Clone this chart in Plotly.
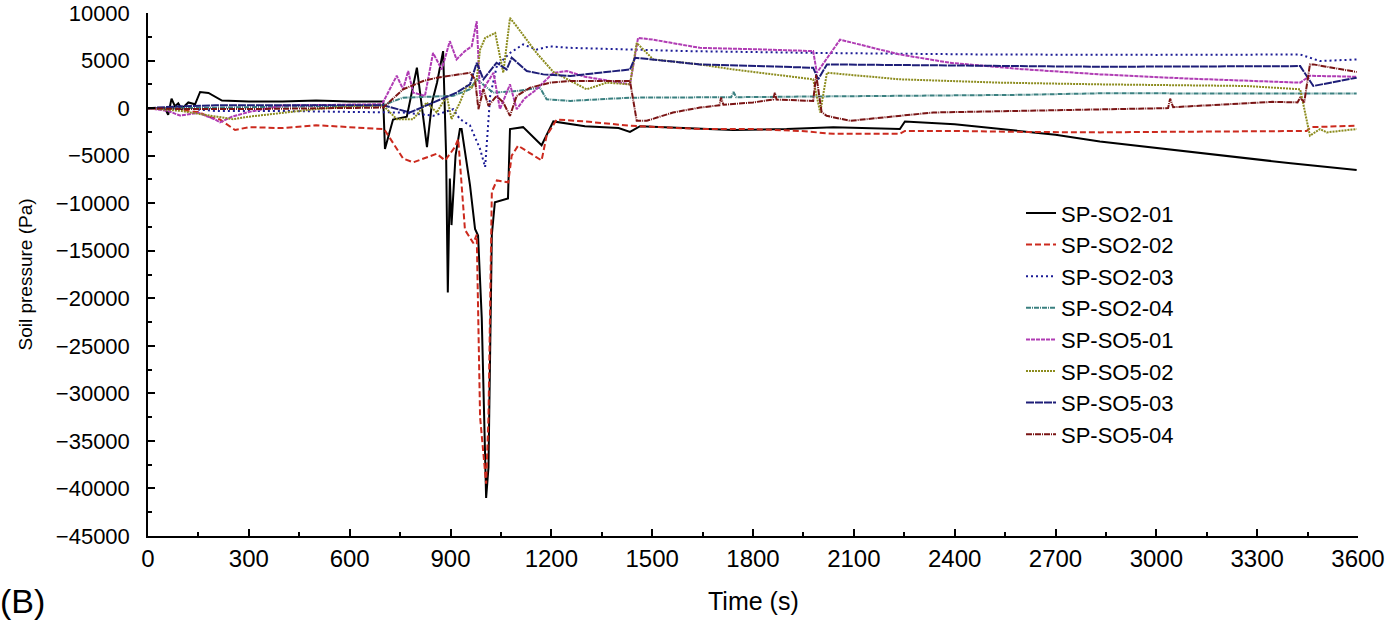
import plotly.graph_objects as go

# SP-SO2-01
t_so2_01 = [0, 50, 60, 70, 80, 90, 100, 120, 140, 155, 180, 220, 300, 400, 500, 600, 700,
            705, 729, 770, 800, 830, 845, 860, 878, 887, 892, 898, 903, 915, 928, 933, 958,
            973, 982, 993, 1006, 1013, 1023, 1032, 1071, 1077, 1116, 1171, 1206, 1300, 1400,
            1434, 1464, 1600, 1741, 1900, 2039, 2237, 2252, 2400, 2535, 2700, 2832, 3000,
            3200, 3400, 3596]
p_so2_01 = [0, 0, -700, 1000, 200, 500, -100, 600, 400, 1700, 1600, 800, 700, 700, 800, 700, 700,
            -4300, -1200, -900, 4250, -4100, 590, 2700, 6000, -5000, -19400, -7400, -12300, -5000,
            -2200, -2200, -8100, -12700, -13400, -22100, -41000, -37800, -13300, -9900, -9500,
            -2200, -2000, -3900, -1400, -1900, -2100, -2500, -1900, -2100, -2300, -2200, -2000,
            -2200, -1400, -1700, -2200, -2800, -3500, -4200, -5000, -5800, -6500]

# SP-SO2-02
t_so2_02 = [0, 90, 125, 150, 180, 214, 259, 300, 400, 500, 600, 700, 705, 759, 789, 859, 884,
            913, 923, 933, 943, 968, 978, 988, 998, 1006, 1013, 1023, 1038, 1072, 1082, 1101,
            1171, 1186, 1216, 1300, 1434, 1642, 1800, 1940, 2039, 2237, 2252, 2400, 2600, 2832,
            3000, 3200, 3447, 3460, 3596]
p_so2_02 = [0, 0, -360, -400, -900, -1200, -2300, -2000, -2100, -1800, -2000, -2200, -2350,
            -5300, -5700, -4800, -5500, -4100, -3250, -8500, -12800, -14200, -13300, -32500,
            -36000, -39500, -32500, -8800, -7600, -7800, -5000, -3950, -5500, -2900, -1200,
            -1400, -1850, -2200, -2200, -2400, -2700, -2700, -2400, -2400, -2500, -2550, -2500,
            -2450, -2400, -2000, -1850]

# SP-SO2-03
t_so2_03 = [0, 100, 200, 400, 600, 700, 759, 850, 908, 928, 958, 988, 1003, 1018, 1038, 1077,
            1116, 1156, 1196, 1256, 1404, 1600, 2000, 2500, 3000, 3428, 3487, 3596]
p_so2_03 = [0, 0, -300, -300, -400, -400, -460, -800, -110, -1160, -1820, -4300, -6200, 1300,
            4450, 5800, 6700, 6160, 6500, 6340, 6160, 6000, 5800, 5640, 5600, 5640, 4950, 5120]

# SP-SO2-04
t_so2_04 = [0, 100, 300, 500, 700, 720, 759, 908, 958, 978, 1027, 1097, 1166, 1186, 1256, 1434,
            1642, 1735, 1742, 1750, 1900, 2237, 2600, 2832, 3200, 3596]
p_so2_04 = [0, 0, 100, 200, 300, 590, 1100, 1290, 1980, 3030, 1630, 1800, 2150, 930, 760, 1100,
            1100, 1150, 1700, 1150, 1200, 1290, 1400, 1560, 1530, 1530]

# SP-SO5-01
t_so5_01 = [0, 60, 95, 150, 200, 214, 250, 300, 400, 500, 600, 690, 699, 740, 759, 774, 789, 824,
            848, 874, 898, 918, 943, 963, 978, 988, 1003, 1028, 1047, 1077, 1097, 1120, 1150,
            1206, 1246, 1300, 1434, 1458, 1503, 1642, 1800, 1979, 1990, 2059, 2237, 2386, 2600,
            2832, 3100, 3428, 3457, 3596]
p_so5_01 = [0, -300, -780, -500, -1200, -1500, -900, -400, 270, 300, 350, 410, 590, 3400, 1980,
            3900, 1630, 1290, 5800, 4070, 7040, 5120, 6000, 6500, 9130, 1290, 2330, 3720, -110,
            2500, -110, 1000, 1800, 3700, 3900, 3300, 2500, 7380, 7200, 6340, 6200, 6000, 3720,
            7200, 5640, 4770, 4100, 3550, 3100, 2680, 3400, 3300]

# SP-SO5-02
t_so5_02 = [0, 60, 100, 150, 253, 300, 400, 500, 600, 700, 740, 789, 829, 859, 889, 903, 928,
            948, 963, 978, 988, 1003, 1033, 1057, 1077, 1097, 1156, 1206, 1250, 1305, 1365, 1434,
            1454, 1503, 1642, 1741, 1979, 2000, 2020, 2237, 2535, 2832, 3268, 3428, 3457, 3487,
            3507, 3596]
p_so5_02 = [0, -200, -300, -600, -1160, -900, -500, -100, 200, 270, -1160, -1160, 590, -460,
            1290, -1160, 590, 2330, 2150, 3030, 6160, 7380, 7900, 3720, 9480, 8600, 5800, 3800,
            3000, 1980, 2680, 2500, 6860, 5120, 4600, 4070, 3030, -460, 3720, 3030, 2680, 2500,
            2330, 1980, -2900, -2200, -2550, -2200]

# SP-SO5-03
t_so5_03 = [0, 100, 200, 400, 600, 700, 779, 859, 918, 958, 978, 998, 1037, 1067, 1082, 1127,
            1176, 1256, 1434, 1449, 1494, 1642, 1979, 1994, 2020, 2832, 3428, 3467, 3596]
p_so5_03 = [0, 200, 300, 300, 300, 300, -460, 760, 1630, 2500, 4770, 3030, 4770, 4070, 5300,
            3900, 3550, 3380, 4070, 5300, 5120, 4600, 4250, 3030, 4600, 4350, 4420, 2330, 3200]

# SP-SO5-04
t_so5_04 = [0, 100, 300, 500, 700, 759, 819, 859, 918, 958, 973, 983, 998, 1013, 1037, 1057,
            1077, 1097, 1137, 1196, 1256, 1434, 1454, 1484, 1562, 1642, 1700, 1705, 1712, 1800,
            1860, 1865, 1870, 1979, 1988, 2004, 2019, 2089, 2336, 2832, 3035, 3041, 3050, 3347,
            3420, 3428, 3440, 3457, 3467, 3596]
p_so5_04 = [0, -100, -100, -50, 60, 1980, 2850, 3200, 3550, 3720, 3030, -110, 1980, 240, 1290,
            590, -810, 1290, 2150, 2680, 2850, 2850, -1330, -1330, -460, 60, 300, 1100, 350, 600,
            900, 1630, 900, 760, 3500, -400, -810, -1330, -460, -110, 0, 1000, 100, 660, 600,
            1100, 600, 4600, 4600, 3800]

x_ticks = list(range(0, 3601, 300))
y_ticks = list(range(-45000, 10001, 5000))
y_ticktext = [str(v).replace('-', '\u2212') for v in y_ticks]

series = [
    ("SP-SO2-01", t_so2_01, p_so2_01, "#000000", "solid"),
    ("SP-SO2-02", t_so2_02, p_so2_02, "#cc2a1e", "6px,3px"),
    ("SP-SO2-03", t_so2_03, p_so2_03, "#1c1c96", "2px,3px"),
    ("SP-SO2-04", t_so2_04, p_so2_04, "#3a8080", "5px,1px,1px,1px"),
    ("SP-SO5-01", t_so5_01, p_so5_01, "#b03cb4", "4px,1px"),
    ("SP-SO5-02", t_so5_02, p_so5_02, "#8c8c1e", "2px,1px"),
    ("SP-SO5-03", t_so5_03, p_so5_03, "#1e1e78", "8px,1px"),
    ("SP-SO5-04", t_so5_04, p_so5_04, "#7a1414", "6px,1px,1px,1px"),
]

fig = go.Figure()
for i, (name, t, p, color, dash) in enumerate(series):
    fig.add_trace(go.Scatter(x=t, y=p, mode='lines', name=name, legendgroup=str(i),
                             line=dict(color=color, width=2, dash=dash)))

axis_style = dict(showline=True, linecolor='black', linewidth=1.5, ticks='inside',
                  ticklen=7, tickwidth=1.5, tickcolor='black', showgrid=False,
                  zeroline=False, mirror=False, ticklabeloverflow='allow', automargin=False)

narrow = 'Liberation Sans Narrow, Arial Narrow, Arial, sans-serif'

fig.update_layout(
    width=1389, height=622,
    plot_bgcolor='white', paper_bgcolor='white',
    font=dict(family='Arial, Liberation Sans, sans-serif', color='black'),
    margin=dict(l=148, r=31, t=13, b=86),
    xaxis=dict(range=[0, 3600], tickvals=x_ticks,
               minor=dict(ticks='inside', ticklen=4, tickwidth=1.5, tickcolor='black', dtick=150),
               tickfont=dict(size=24, family=narrow, color='black'),
               **axis_style),
    yaxis=dict(range=[-45000, 10005], tickvals=y_ticks, ticktext=y_ticktext,
               minor=dict(ticks='inside', ticklen=4, tickwidth=1.5, tickcolor='black', dtick=2500),
               tickfont=dict(size=22, color='black'), ticklabelstandoff=12,
               **axis_style),
    showlegend=True,
    legend=dict(x=0.7215, y=0.6574, xanchor='left', yanchor='top', traceorder='grouped',
                tracegroupgap=0, font=dict(size=22), bgcolor='rgba(0,0,0,0)'),
    annotations=[
        dict(text='Time (s)', xref='paper', yref='paper', x=0.5, y=0, yshift=-65,
             xanchor='center', yanchor='middle', showarrow=False,
             font=dict(size=25, family=narrow, color='black')),
        dict(text='Soil pressure (Pa)', xref='paper', yref='paper', x=0, y=0.5, xshift=-123,
             xanchor='center', yanchor='middle', textangle=-90, showarrow=False,
             font=dict(size=19, color='black')),
        dict(text='(B)', xref='paper', yref='paper', x=0, y=0, xshift=-150, yshift=-65,
             xanchor='left', yanchor='middle', showarrow=False,
             font=dict(size=34, color='black')),
    ],
)

fig.write_html("out.html", config={'displayModeBar': False},
               post_script="document.body.style.margin='0';")
